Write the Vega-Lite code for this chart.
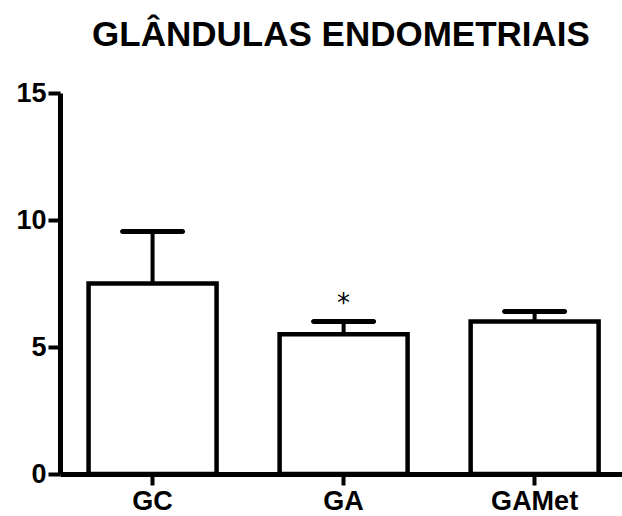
{
  "$schema": "https://vega.github.io/schema/vega-lite/v6.json",
  "width": 562,
  "height": 381,
  "autosize": {"type": "none"},
  "padding": {"left": 60, "top": 93, "right": 0, "bottom": 42},
  "background": "white",
  "title": {
    "text": "GLÂNDULAS ENDOMETRIAIS",
    "font": "Liberation Sans",
    "fontSize": 35,
    "fontWeight": "bold",
    "color": "black",
    "anchor": "middle",
    "offset": 26
  },
  "config": {
    "view": {"stroke": null},
    "axis": {
      "grid": false,
      "domainColor": "black",
      "tickColor": "black",
      "labelColor": "black",
      "labelFont": "Liberation Sans",
      "labelFontWeight": "bold",
      "title": null
    }
  },
  "data": {
    "values": [
      {"grupo": "GC", "media": 7.5, "superior": 9.55, "sig": ""},
      {"grupo": "GA", "media": 5.5, "superior": 6.0, "sig": "*"},
      {"grupo": "GAMet", "media": 6.0, "superior": 6.4, "sig": ""}
    ]
  },
  "encoding": {
    "x": {
      "field": "grupo",
      "type": "nominal",
      "sort": ["GC", "GA", "GAMet"],
      "scale": {"paddingInner": 0.33, "paddingOuter": 0.136, "align": 0.55},
      "axis": {
        "labelAngle": 0,
        "labelFontSize": 27,
        "labelPadding": 3,
        "domainWidth": 5,
        "tickWidth": 4,
        "tickSize": 11
      }
    }
  },
  "layer": [
    {
      "mark": {"type": "bar", "fill": "white", "stroke": "black", "strokeWidth": 4.5},
      "encoding": {
        "y": {
          "field": "media",
          "type": "quantitative",
          "scale": {"domain": [0, 15], "nice": false},
          "axis": {
            "values": [0, 5, 10, 15],
            "labelFontSize": 27,
            "labelPadding": 2,
            "domainWidth": 5,
            "tickWidth": 4,
            "tickSize": 12
          }
        }
      }
    },
    {
      "mark": {"type": "rule", "stroke": "black", "strokeWidth": 4},
      "encoding": {
        "y": {"field": "media", "type": "quantitative"},
        "y2": {"field": "superior"}
      }
    },
    {
      "mark": {"type": "tick", "orient": "horizontal", "color": "black", "opacity": 1, "size": 65, "thickness": 5, "cornerRadius": 2.5},
      "encoding": {
        "y": {"field": "superior", "type": "quantitative"}
      }
    },
    {
      "mark": {"type": "text", "font": "DejaVu Sans", "fontSize": 26, "color": "black", "baseline": "middle", "dy": -18},
      "encoding": {
        "y": {"field": "superior", "type": "quantitative"},
        "text": {"field": "sig"}
      }
    }
  ]
}
